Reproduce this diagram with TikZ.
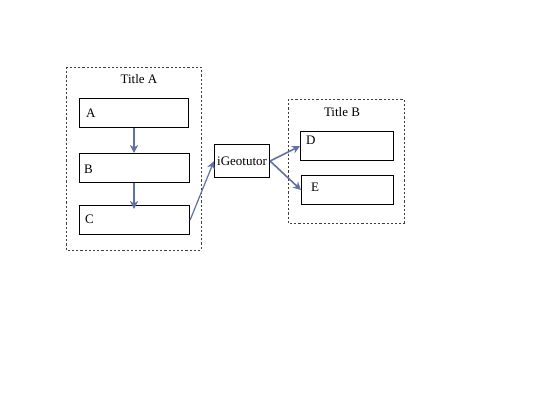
\documentclass[tikz,border=0pt]{standalone}
\usepackage{fontspec}
\setmainfont{Liberation Serif}
\usetikzlibrary{arrows.meta}
\definecolor{arr}{RGB}{96,112,160}
\begin{document}
\begin{tikzpicture}[x=1pt,y=-1pt,
  frame/.style={draw, line width=1pt, dash pattern=on 2.2pt off 2pt, color=black!75},
  itembox/.style={draw, line width=1.1pt, rectangle},
  lbl/.style={font=\fontsize{13}{15}\selectfont, inner sep=0pt, anchor=west},
  conn/.style={draw=arr, line width=1.6pt, -{Stealth[length=8pt,width=8pt,inset=2.5pt]}}]
\useasboundingbox (0,0) rectangle (540,405);
% groups
\draw[frame] (66,67) rectangle (201,250);
\draw[frame] (288,99) rectangle (404,223);
\node[font=\fontsize{13}{15}\selectfont] (ta) at (139,79) {Title A};
\node[font=\fontsize{13}{15}\selectfont] (tb) at (342,112) {Title B};
% boxes
\node[itembox, minimum width=109, minimum height=29, anchor=north west] (A) at (79,98) {};
\node[itembox, minimum width=110, minimum height=29, anchor=north west] (B) at (79,153) {};
\node[itembox, minimum width=110, minimum height=29, anchor=north west] (C) at (79,205) {};
\node[itembox, minimum width=55, minimum height=33, anchor=north west] (G) at (214,144) {};
\node[itembox, minimum width=93, minimum height=29, anchor=north west] (D) at (300,131) {};
\node[itembox, minimum width=92, minimum height=29, anchor=north west] (E) at (301,175) {};
\node[lbl] (la) at (86,113) {A};
\node[lbl] (lb) at (84,169) {B};
\node[lbl] (lc) at (85,219) {C};
\node[font=\fontsize{13}{15}\selectfont, inner sep=0pt] (lg) at (G.center) {iGeotutor};
\node[lbl] (ld) at (306,140) {D};
\node[lbl] (le) at (311,187) {E};
% connectors
\draw[conn] (A.south -| 134,0) -- (B.north -| 134,0);
\draw[conn] (B.south -| 134,0) -- (134,209);
\draw[conn, line width=1.2pt] (C.east) -- (G.west);
\draw[conn] (G.east) -- (D.west);
\draw[conn] (G.east) -- (E.west |- 0,190);
\end{tikzpicture}
\end{document}
